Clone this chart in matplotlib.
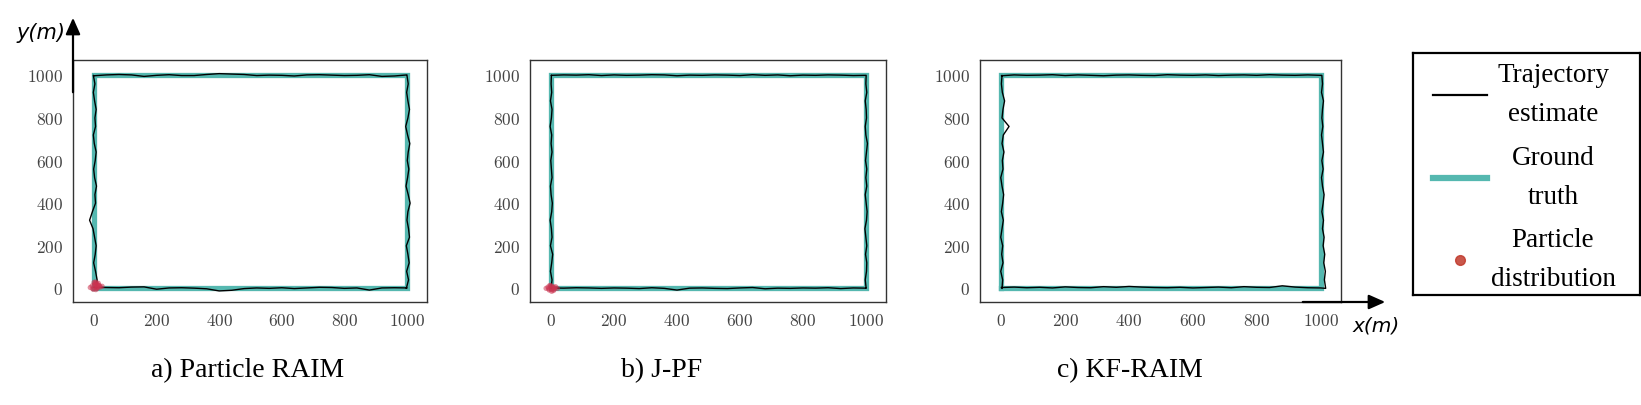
import matplotlib
matplotlib.use("Agg")
import matplotlib.pyplot as plt
from matplotlib.lines import Line2D

plt.rcParams['mathtext.fontset'] = 'cm'

# ---------------- data ----------------
panel_titles = ["a) Particle RAIM", "b) J-PF", "c) KF-RAIM"]
xticks = [0, 200, 400, 600, 800, 1000]
yticks = [0, 200, 400, 600, 800, 1000]

# ground truth rectangle corners
gt_x = [0, 1000, 1000, 0, 0]
gt_y = [0, 0, 1000, 1000, 0]

# stations along each side (m)
stations = [0, 40, 80, 120, 160, 200, 240, 280, 320, 360, 400, 440, 480,
            520, 560, 600, 640, 680, 720, 760, 800, 840, 880, 920, 960, 1000]

# trajectory deviations (m) from the ground truth at each station
# bottom: y-offset (x ascending), right: x-offset (y ascending),
# top: y-offset (x ascending), left: x-offset (y ascending)
a_bottom = [5, 4, 3, 6, 7, -4, 2, 3, 1, -2, -12, -9, -1, 2, 0, 3, -1, 2, 5, 4, 0, 2, -8, 2, 3, 2]
a_right = [-2, 5, -1, 7, 3, -2, 8, 5, 0, 3, 10, 4, -3, 2, 6, 1, 4, 9, 2, -4, 3, 8, 3, -1, 4, 0]
a_top = [-2, 2, 4, 2, -5, 0, 3, -1, -1, 4, 8, 6, 4, -1, 1, 0, -3, 2, 3, 1, -1, 0, 3, -5, -3, 2]
a_left = [8, 10, 5, -1, 4, 7, 2, -3, -14, -5, 5, 3, 8, 2, -1, 4, 7, 1, -2, 5, 3, 7, 2, -2, 3, -2]

b_bottom = [2, 1, 3, 2, 0, 2, 1, -1, 3, 0, -8, 1, 2, 0, -1, 2, 4, -2, 1, 0, 2, 1, 3, -1, 2, 1]
b_right = [1, -2, 2, 3, -1, 3, 0, -3, 2, 4, 1, -2, 3, 0, 3, -1, 2, 5, 0, -2, 2, 1, -2, 3, 0, 1]
b_top = [0, 2, 1, 3, -1, 2, 0, 1, 3, 2, -2, 1, 0, 2, 1, -1, 3, 0, 2, -2, 1, 0, 2, 1, -1, 0]
b_left = [0, 3, -2, 2, 5, -2, 3, 1, -3, 2, 4, 0, -2, 3, 1, -1, 3, 0, 2, -3, 1, 3, -2, 2, 0, 1]

c_bottom = [4, 6, 3, 5, 2, 7, 4, 3, 8, 5, 9, 6, 4, 3, 5, 2, 4, 6, 3, 8, 5, 4, 12, 6, 3, 2]
c_right = [16, 12, 15, 10, 13, 8, 11, 6, 9, 4, 8, 11, 6, 3, 8, 4, 9, 6, 3, 7, 4, 6, 9, 3, 6, 4]
c_top = [-2, 2, 0, 1, 3, -1, 2, 0, -2, 1, 2, 0, -1, 3, 1, 0, 2, -1, 1, 2, 0, 3, 1, 0, 2, 0]
c_left = [2, 4, -2, 5, 1, 4, -2, 2, 6, 0, 4, 7, 2, -2, 5, 3, 8, 2, 6, 24, 2, 5, 10, 3, 0, 2]

sides = [(a_bottom, a_right, a_top, a_left),
         (b_bottom, b_right, b_top, b_left),
         (c_bottom, c_right, c_top, c_left)]

# particle cloud near the start point (m)
a_px = [-12, -6, -2, 2, 5, 8, 12, 15, 20, 26, 0, 6, 10, 14, -4, 3, 9, 18, 4, 11]
a_py = [4, 12, -4, 20, 8, 26, 2, 14, 6, 10, 28, -6, 18, 24, -2, 16, 0, 12, 30, 8]
b_px = [-16, -10, -6, -2, 2, 6, 10, 14, 20, -8, 0, 4, 8, -4, 12, 2]
b_py = [0, 6, -8, 12, -14, 4, -4, 8, 0, -2, 2, 10, -10, 14, 2, -6]
particles = [(a_px, a_py), (b_px, b_py), (None, None)]

# ---------------- style ----------------
TEAL = '#55b8b0'
RED = '#cc3350'
SPINE = '#333333'

fig = plt.figure(figsize=(16.41, 4.05), dpi=100)
W, H = 1641, 405


def fax(l, t, r, b):
    return [l / W, 1 - b / H, (r - l) / W, (b - t) / H]


boxes = [fax(73, 60, 427, 302), fax(530, 60, 886, 302), fax(980, 60, 1341, 302)]
cap_x = [248, 662, 1130]

for i, (box, sd, pt) in enumerate(zip(boxes, sides, particles)):
    ax = fig.add_axes(box)
    bottom, right, top, left = sd
    tx = list(stations) + [1000 + v for v in right] + list(stations[::-1]) + [0 + v for v in left[::-1]]
    ty = [0 + v for v in bottom] + list(stations) + [1000 + v for v in top[::-1]] + list(stations[::-1])
    ax.plot(gt_x, gt_y, color=TEAL, lw=3.8, solid_joinstyle='miter', zorder=2)
    ax.plot(tx, ty, color='black', lw=1.0, zorder=3)
    if pt[0] is not None:
        ax.scatter(pt[0], pt[1], s=14, color=RED, alpha=0.55, edgecolors='none', zorder=4)
    ax.set_xlim(-67, 1064)
    ax.set_ylim(-64, 1072)
    ax.set_xticks(xticks)
    ax.set_yticks(yticks)
    ax.set_xticklabels([f'${v}$' for v in xticks])
    ax.set_yticklabels([f'${v}$' for v in yticks])
    ax.tick_params(length=0, labelsize=12.5, labelcolor='#444444', pad=7)
    for s in ax.spines.values():
        s.set_color(SPINE)
        s.set_linewidth(1.0)
    fig.text(cap_x[i] / W, 1 - 371 / H, panel_titles[i], ha='center', va='center',
             fontsize=20, family='Liberation Serif')

# axis arrows
fig.add_artist(matplotlib.patches.FancyArrowPatch(
    (73 / W, 1 - 95 / H), (73 / W, 1 - 15 / H), transform=fig.transFigure,
    arrowstyle='-|>,head_length=0.9,head_width=0.4', mutation_scale=11,
    color='black', lw=1.6))
fig.add_artist(matplotlib.patches.FancyArrowPatch(
    (1300 / W, 1 - 302 / H), (1388 / W, 1 - 302 / H), transform=fig.transFigure,
    arrowstyle='-|>,head_length=0.9,head_width=0.4', mutation_scale=11,
    color='black', lw=1.6))
fig.text(41 / W, 1 - 33 / H, 'y(m)', ha='center', va='center', fontsize=15,
         style='italic', family='DejaVu Sans')
fig.text(1376 / W, 1 - 326 / H, 'x(m)', ha='center', va='center', fontsize=14.5,
         style='italic', family='DejaVu Sans')

# legend box
lax = fig.add_axes(fax(1413, 53, 1640, 295))
lax.set_xlim(0, 1)
lax.set_ylim(0, 1)
lax.set_xticks([])
lax.set_yticks([])
for s in lax.spines.values():
    s.set_color('black')
    s.set_linewidth(1.6)
lax.add_line(Line2D([0.088, 0.326], [0.826, 0.826], color='black', lw=1.6))
lax.add_line(Line2D([0.088, 0.326], [0.483, 0.483], color=TEAL, lw=4.5))
lax.add_line(Line2D([0.207], [0.145], color='#c0392b', marker='o', ms=7, ls='none', alpha=0.85))
lfont = dict(fontsize=19.5, family='Liberation Serif', ha='center', va='center')
for txt, yy in [('Trajectory', 0.909), ('estimate', 0.744), ('Ground', 0.566),
                ('truth', 0.401), ('Particle', 0.227), ('distribution', 0.066)]:
    lax.text(0.617, yy, txt, **lfont)

fig.savefig('out.png', dpi=100)
